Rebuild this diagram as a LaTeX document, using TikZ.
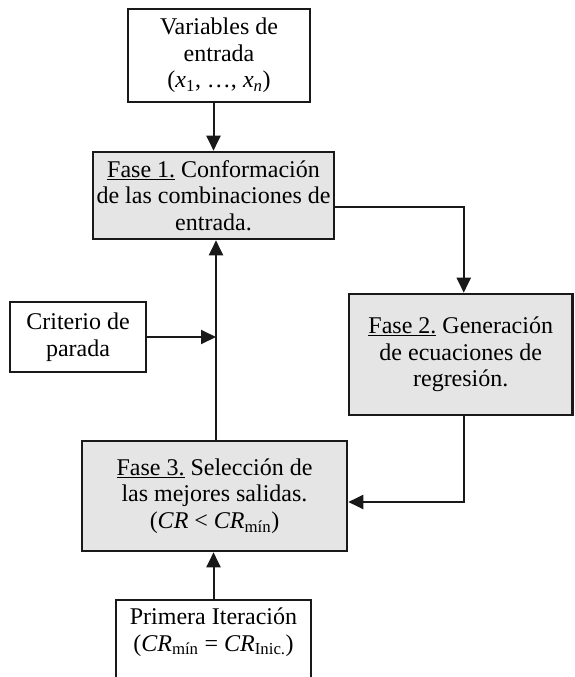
\documentclass[tikz,border=0pt]{standalone}
\usepackage{fontspec}
\setmainfont{Liberation Serif}
\usepackage{tikz}
\usetikzlibrary{arrows.meta}
\tikzset{
every picture/.style={line width=2pt, >={Triangle[length=15pt,width=14pt]}},
%%%%%%%%%%  Node styles
input_box/.style={draw=black!90, fill=white, line width=1.8pt, inner sep=0pt,
                  align=center, font=\fontsize{24}{26.5}\selectfont},
fase_box/.style={draw=black!90, fill=black!10, line width=2.6pt, inner sep=0pt,
                 align=center, font=\fontsize{24}{26.5}\selectfont},
%%%%%%% connectors
flow/.style={->, draw=black!90}
}
\newcommand{\sub}[1]{\textsubscript{#1}}

\begin{document}
\begin{tikzpicture}[x=1pt, y=-1pt]
\useasboundingbox (0,0) rectangle (574,677);
\node[input_box, minimum width=182pt, minimum height=93pt] (vars) at (219,55.5)
  {Variables de\\entrada\\(\textit{x}\sub{1}, \ldots, \textit{x\sub{n}})};
\node[fase_box, minimum width=241pt, minimum height=87pt] (f1) at (213.5,195.5)
  {\underline{Fase 1.} Conformación\\de las combinaciones de\\entrada.};
\node[fase_box, minimum width=223.5pt, minimum height=121pt] (f2) at (460.75,354.5)
  {\underline{Fase 2.} Generación\\de ecuaciones de\\regresión.};
\node[fase_box, minimum width=265pt, minimum height=110pt] (f3) at (214.5,496)
  {\underline{Fase 3.} Selección de\\las mejores salidas.\\(\textit{CR} < \textit{CR}\sub{mín})};
\node[input_box, minimum width=136pt, minimum height=70pt] (crit) at (78,337)
  {Criterio de\\parada};
%% box runs off the page at the bottom
\node[input_box, anchor=north, minimum width=195pt, inner ysep=8pt, text depth=60pt] (ini) at (213.5,599)
  {Primera Iteración\\(\textit{CR}\sub{mín} = \textit{CR}\sub{Inic.})};
\coordinate (up) at ([xshift=1.5pt]f3.north);

\draw[flow] (vars.south -| f1.north) -- (f1.north);
\draw[flow] ([yshift=-11pt]f1.east) -| ([xshift=3pt]f2.north);
\draw[flow] ([xshift=3pt]f2.south) |- ([yshift=-6pt]f3.east);
\draw[flow] (up) -- (up |- f1.south);
\draw[flow] (crit.east) -- (crit.east -| up);
\draw[flow] (ini.north) -- (ini.north |- f3.south);
\end{tikzpicture}
\end{document}
